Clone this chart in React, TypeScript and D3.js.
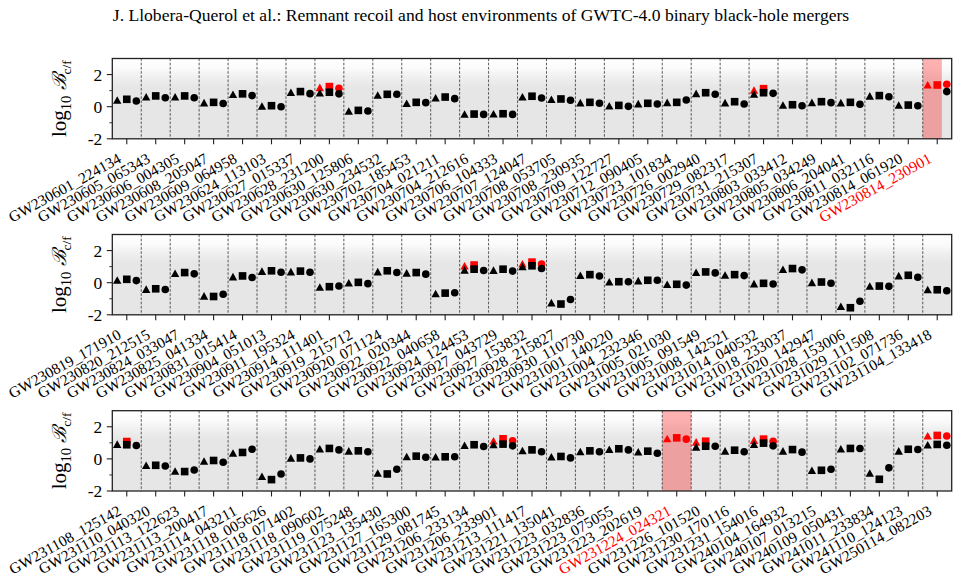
import React from "react";
import * as d3 from "d3";

const TITLE =
  "J. Llobera-Querol et al.: Remnant recoil and host environments of GWTC-4.0 binary black-hole mergers";

type V = number | null;

// ---------- Panel 1 ----------
const names1 = [
  "GW230601_224134", "GW230605_065343", "GW230606_004305", "GW230608_205047", "GW230609_064958",
  "GW230624_113103", "GW230627_015337", "GW230628_231200", "GW230630_125806", "GW230630_234532",
  "GW230702_185453", "GW230704_021211", "GW230704_212616", "GW230706_104333", "GW230707_124047",
  "GW230708_053705", "GW230708_230935", "GW230709_122727", "GW230712_090405", "GW230723_101834",
  "GW230726_002940", "GW230729_082317", "GW230731_215307", "GW230803_033412", "GW230805_034249",
  "GW230806_204041", "GW230811_032116", "GW230814_061920", "GW230814_230901",
];
// [triangle, square, circle]
const black1: V[][] = [
  [0.42, 0.46, 0.35], [0.62, 0.67, 0.56], [0.62, 0.67, 0.56], [0.25, 0.27, 0.2], [0.77, 0.8, 0.69],
  [0.04, 0.06, 0.0], [0.9, 0.94, 0.81], [0.87, 0.9, 0.8], [-0.27, -0.23, -0.27], [0.73, 0.77, 0.77],
  [0.21, 0.27, 0.25], [0.56, 0.6, 0.5], [-0.46, -0.46, -0.48], [-0.44, -0.44, -0.48], [0.62, 0.65, 0.54],
  [0.46, 0.48, 0.4], [0.25, 0.27, 0.21], [0.06, 0.08, 0.02], [0.19, 0.21, 0.17], [0.27, 0.27, 0.42],
  [0.83, 0.87, 0.77], [0.25, 0.31, 0.17], [0.79, 0.87, 0.83], [0.1, 0.12, 0.06], [0.27, 0.31, 0.25],
  [0.25, 0.27, 0.15], [0.67, 0.69, 0.62], [0.1, 0.1, 0.06], [null, null, 0.94],
];
const red1: (V[] | null)[] = [
  null, null, null, null, null, null, null, [1.2, 1.25, 1.15], null, null,
  null, null, null, null, null, null, null, null, null, null,
  null, null, [1.04, 1.12, null], null, null, null, null, null, [1.37, 1.35, 1.4],
];

// ---------- Panel 2 ----------
const names2 = [
  "GW230819_171910", "GW230820_212515", "GW230824_033047", "GW230825_041334", "GW230831_015414",
  "GW230904_051013", "GW230911_195324", "GW230914_111401", "GW230919_215712", "GW230920_071124",
  "GW230922_020344", "GW230922_040658", "GW230924_124453", "GW230927_043729", "GW230927_153832",
  "GW230928_215827", "GW230930_110730", "GW231001_140220", "GW231004_232346", "GW231005_021030",
  "GW231005_091549", "GW231008_142521", "GW231014_040532", "GW231018_233037", "GW231020_142947",
  "GW231028_153006", "GW231029_111508", "GW231102_071736", "GW231104_133418",
];
const black2: V[][] = [
  [0.17, 0.21, 0.13], [-0.4, -0.38, -0.42], [0.59, 0.63, 0.55], [-0.82, -0.86, -0.72], [0.38, 0.42, 0.32],
  [0.72, 0.74, 0.65], [0.69, 0.72, 0.65], [-0.27, -0.25, -0.21], [0.0, 0.02, -0.06], [0.69, 0.74, 0.63],
  [0.61, 0.63, 0.53], [-0.67, -0.65, -0.63], [0.8, 0.84, 0.76], [0.78, 0.84, 0.72], [1.01, 1.05, 0.88],
  [-1.24, -1.33, -1.05], [0.46, 0.5, 0.42], [0.06, 0.06, 0.06], [0.13, 0.15, 0.15], [-0.1, -0.1, -0.15],
  [0.65, 0.67, 0.61], [0.48, 0.5, 0.44], [-0.06, -0.04, -0.08], [0.84, 0.88, 0.8], [0.02, 0.04, -0.04],
  [-1.47, -1.56, -1.16], [-0.21, -0.21, -0.23], [0.44, 0.46, 0.34], [-0.42, -0.44, -0.5],
];
const red2: (V[] | null)[] = [
  null, null, null, null, null, null, null, null, null, null,
  null, null, [1.05, 1.1, null], null, [1.18, 1.28, 1.16], null, null, null, null, null,
  null, null, null, null, null, null, null, null, null,
];

// ---------- Panel 3 ----------
const names3 = [
  "GW231108_125142", "GW231110_040320", "GW231113_122623", "GW231113_200417", "GW231114_043211",
  "GW231118_005626", "GW231118_071402", "GW231118_090602", "GW231119_075248", "GW231123_135430",
  "GW231127_165300", "GW231129_081745", "GW231206_233134", "GW231206_233901", "GW231213_111417",
  "GW231221_135041", "GW231223_032836", "GW231223_075055", "GW231223_202619", "GW231224_024321",
  "GW231226_101520", "GW231230_170116", "GW231231_154016", "GW240104_164932", "GW240107_013215",
  "GW240109_050431", "GW241011_233834", "GW241110_124123", "GW250114_082203",
];
const black3: V[][] = [
  [0.92, 0.88, 0.83], [-0.4, -0.4, -0.44], [-0.75, -0.79, -0.69], [-0.13, -0.1, -0.21], [0.37, 0.4, 0.6],
  [-1.08, -1.29, -0.94], [0.06, 0.06, 0.0], [0.63, 0.65, 0.56], [0.5, 0.5, 0.44], [-0.88, -0.94, -0.65],
  [0.15, 0.17, 0.1], [0.13, 0.13, 0.13], [0.85, 0.88, 0.77], [0.9, 0.92, 0.81], [0.52, 0.56, 0.44],
  [0.13, 0.15, 0.06], [0.46, 0.5, 0.44], [0.6, 0.63, 0.56], [0.44, 0.48, 0.35], [null, null, null],
  [0.75, 0.79, 0.79], [0.5, 0.54, 0.44], [0.92, 0.98, 0.81], [0.5, 0.58, 0.42], [-0.71, -0.71, -0.65],
  [0.63, 0.65, 0.65], [-0.88, -1.27, -0.56], [0.5, 0.6, 0.58], [0.88, 0.9, 0.85],
];
const red3: (V[] | null)[] = [
  [null, 1.08, null], null, null, null, null, null, null, null, null, null,
  null, null, null, [1.13, 1.25, 1.13], null, null, null, null, null, [1.27, 1.31, 1.23],
  [1.06, 1.1, null], null, [1.17, 1.23, 1.1], null, null, null, null, null, [1.44, 1.46, 1.42],
];

// highlighted events: [panel, index, fraction of band covered]
const highlights: [number, number, number][] = [
  [0, 28, 0.66],
  [2, 19, 1.0],
];

const yDomain = [-2, 3];
const yMajor = [-2, 0, 2];
const yMinor = [-1, 1];

const panels = [
  { names: names1, black: black1, red: red1 },
  { names: names2, black: black2, red: red2 },
  { names: names3, black: black3, red: red3 },
];

const LEFT = 112.3;
const RIGHT = 951.7;
const TOPS = [58.5, 234.5, 410.7];
const PH = 80.3;
const SERIF = "'Liberation Serif', 'DejaVu Serif', serif";

function marker(kind: number, cx: number, cy: number, fill: string, key: string) {
  if (kind === 0) {
    const w = 8.4, h = 7.6;
    const d = `M${cx},${cy - h / 2}L${cx - w / 2},${cy + h / 2}L${cx + w / 2},${cy + h / 2}Z`;
    return <path key={key} d={d} fill={fill} />;
  }
  if (kind === 1) {
    const s = 7.6;
    return <rect key={key} x={cx - s / 2} y={cy - s / 2} width={s} height={s} fill={fill} />;
  }
  return <circle key={key} cx={cx} cy={cy} r={3.8} fill={fill} />;
}

function Panel({ p, idx }: { p: (typeof panels)[number]; idx: number }) {
  const top = TOPS[idx];
  const bottom = top + PH;
  const x = d3.scaleBand<string>().domain(p.names).range([LEFT, RIGHT]).paddingInner(0).paddingOuter(0);
  const y = d3.scaleLinear().domain(yDomain).range([bottom, top]);
  const bw = x.bandwidth();
  const offs = [-0.33 * bw, 0, 0.33 * bw];
  const hl = highlights.filter((h) => h[0] === idx);
  const hlNames = new Set(hl.map((h) => p.names[h[1]]));
  const cy = (top + bottom) / 2;

  return (
    <g>
      <rect x={LEFT} y={top} width={RIGHT - LEFT} height={PH} fill="url(#bgGrad)" />
      {hl.map((h, i) => (
        <rect
          key={"hl" + i}
          x={x(p.names[h[1]])!}
          y={top}
          width={bw * h[2]}
          height={PH}
          fill="#ff0000"
          fillOpacity={0.3}
        />
      ))}
      {p.names.slice(1).map((n, i) => (
        <line
          key={"sep" + i}
          x1={x(n)!}
          x2={x(n)!}
          y1={top}
          y2={bottom}
          stroke="#333"
          strokeWidth={0.8}
          strokeDasharray="2.6,1.6"
        />
      ))}
      {/* red markers */}
      {p.names.map((n, i) => {
        const r = p.red[i];
        if (!r) return null;
        const c = x(n)! + bw / 2;
        return r.map((v, k) => (v == null ? null : marker(k, c + offs[k], y(v), "#ff0000", `r${i}-${k}`)));
      })}
      {/* black markers */}
      {p.names.map((n, i) => {
        const b = p.black[i];
        const c = x(n)! + bw / 2;
        return b.map((v, k) => (v == null ? null : marker(k, c + offs[k], y(v), "#000", `b${i}-${k}`)));
      })}
      {/* frame */}
      <rect x={LEFT} y={top} width={RIGHT - LEFT} height={PH} fill="none" stroke="#222" strokeWidth={1.3} />
      {/* y ticks */}
      {yMajor.map((t) => (
        <g key={"ym" + t}>
          <line x1={LEFT - 5.5} x2={LEFT} y1={y(t)} y2={y(t)} stroke="#222" strokeWidth={1.1} />
          <text
            x={LEFT - 10}
            y={y(t)}
            dy="0.36em"
            textAnchor="end"
            fontFamily={SERIF}
            fontSize={17.5}
            fill="#000"
          >
            {t < 0 ? "-" + Math.abs(t) : String(t)}
          </text>
        </g>
      ))}
      {yMinor.map((t) => (
        <line key={"yn" + t} x1={LEFT - 3} x2={LEFT} y1={y(t)} y2={y(t)} stroke="#222" strokeWidth={0.9} />
      ))}
      {/* x ticks + labels */}
      {p.names.map((n) => {
        const c = x(n)! + bw / 2;
        return (
          <g key={"xt" + n}>
            <line x1={c} x2={c} y1={bottom} y2={bottom + 5.5} stroke="#222" strokeWidth={1.1} />
            <text
              transform={`translate(${c - 4.5},${bottom + 23}) rotate(-29)`}
              textAnchor="end"
              fontFamily={SERIF}
              fontSize={15.4}
              fill={hlNames.has(n) ? "#ff0000" : "#000"}
            >
              {n}
            </text>
          </g>
        );
      })}
      {/* y label */}
      <text
        transform={`translate(66,${cy}) rotate(-90)`}
        textAnchor="middle"
        fontFamily={SERIF}
        fontSize={21}
        fill="#000"
      >
        log
        <tspan fontSize={14.5} dy={5}>10</tspan>
        <tspan dy={-5}> </tspan>
        <tspan fontStyle="italic" fontFamily="'DejaVu Serif', serif" fontSize={19.5}>ℬ</tspan>
        <tspan fontSize={13.5} dy={5}>c/f</tspan>
      </text>
    </g>
  );
}

export default function App() {
  return (
    <svg width={959} height={583} style={{ display: "block", position: "absolute", left: 0, top: 0 }}>
      <defs>
        <linearGradient id="bgGrad" x1="0" y1="0" x2="0" y2="1">
          <stop offset="0" stopColor="#ffffff" />
          <stop offset="0.12" stopColor="#fbfbfb" />
          <stop offset="0.24" stopColor="#efefef" />
          <stop offset="0.36" stopColor="#e6e6e6" />
          <stop offset="1" stopColor="#e6e6e6" />
        </linearGradient>
      </defs>
      <rect x={0} y={0} width={959} height={583} fill="#fff" />
      <text x={481} y={21} textAnchor="middle" fontFamily={SERIF} fontSize={17.6} fill="#000">
        {TITLE}
      </text>
      {panels.map((p, i) => (
        <Panel key={i} p={p} idx={i} />
      ))}
    </svg>
  );
}
